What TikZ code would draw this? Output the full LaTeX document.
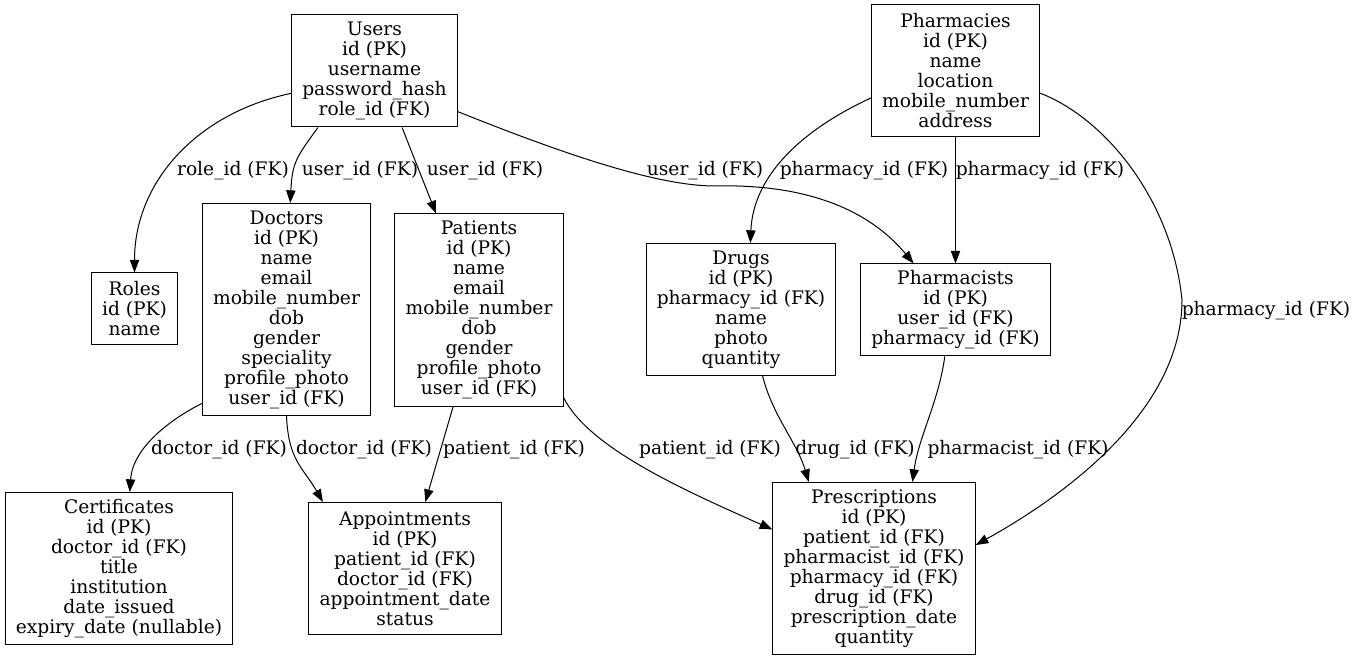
\documentclass[tikz,border=0pt]{standalone}
\usepackage{fontspec}
\setmainfont{DejaVu Serif}
\usetikzlibrary{arrows.meta}

\begin{document}
\begin{tikzpicture}[
    x=0.75pt, y=-0.75pt,
    font=\fontsize{14}{15}\selectfont,
    tbl/.style={draw=black, line width=0.75pt, align=center, inner xsep=8pt, inner ysep=1pt},
    rows/.style={minimum height=#1*15pt+9pt},
    fk/.style={draw=black, line width=0.75pt, -{Triangle[length=9.5pt,width=7pt]}},
    lbl/.style={inner sep=0pt}
]
\useasboundingbox (0,0) rectangle (1357,659);
% top row
\node[tbl, rows=5] (users) at (374.5,71) {Users\\id (PK)\\username\\password\_hash\\role\_id (FK)};
\node[tbl, rows=6] (pharmacies) at (955.5,70.5) {Pharmacies\\id (PK)\\name\\location\\mobile\_number\\address};
% middle row
\node[tbl, rows=3] (roles) at (134.5,309) {Roles\\id (PK)\\name};
\node[tbl, rows=10] (doctors) at (286.5,309.5) {Doctors\\id (PK)\\name\\email\\mobile\_number\\dob\\gender\\speciality\\profile\_photo\\user\_id (FK)};
\node[tbl, rows=9] (patients) at (479,310) {Patients\\id (PK)\\name\\email\\mobile\_number\\dob\\gender\\profile\_photo\\user\_id (FK)};
\node[tbl, rows=6] (drugs) at (741,309.5) {Drugs\\id (PK)\\pharmacy\_id (FK)\\name\\photo\\quantity};
\node[tbl, rows=4] (pharmacists) at (955.5,310) {Pharmacists\\id (PK)\\user\_id (FK)\\pharmacy\_id (FK)};
% bottom row
\node[tbl, rows=7] (certificates) at (119,568.5) {Certificates\\id (PK)\\doctor\_id (FK)\\title\\institution\\date\_issued\\expiry\_date (nullable)};
\node[tbl, rows=6] (appointments) at (405,568.5) {Appointments\\id (PK)\\patient\_id (FK)\\doctor\_id (FK)\\appointment\_date\\status};
\node[tbl, rows=8] (prescriptions) at (874,568.5) {Prescriptions\\id (PK)\\patient\_id (FK)\\pharmacist\_id (FK)\\pharmacy\_id (FK)\\drug\_id (FK)\\prescription\_date\\quantity};
% bends
\coordinate (uphbend) at (715,186);
\coordinate (prxbend) at (1182,300);
% connections
\draw[fk] (users.195) .. controls +(-95,20) and +(0,-90) .. (roles.north);
\draw[fk] (users.225) .. controls +(-22,30) and +(2,-40) .. (doctors.88);
\draw[fk] (users.296) -- (patients.114);
\draw[fk] (users.334) .. controls +(100,40) and +(-60,0) .. (uphbend) .. controls +(80,-2) and +(-50,-60) .. (pharmacists.132);
\draw[fk] (pharmacies.198) .. controls +(-65,30) and +(3,-70) .. (drugs.82);
\draw[fk] (pharmacies.south) -- (pharmacists.north);
\draw[fk] (pharmacies.345) .. controls +(65,25) and +(-10,-100) .. (prxbend) .. controls +(0,110) and +(90,-50) .. (prescriptions.13);
\draw[fk] (doctors.228) .. controls +(-30,15) and +(3,-45) .. (certificates.82);
\draw[fk] (doctors.south) .. controls +(2,45) and +(-20,-35) .. (appointments.141);
\draw[fk] (patients.255) -- (appointments.73);
\draw[fk] (patients.314) .. controls +(25,50) and +(-90,-40) .. (prescriptions.159);
\draw[fk] (drugs.288) .. controls +(10,40) and +(-12,-40) .. (prescriptions.127);
\draw[fk] (pharmacists.257) .. controls +(-6,45) and +(6,-45) .. (prescriptions.66);
% edge labels
\node[lbl] (lrole) at (233,170.5) {role\_id (FK)};
\node[lbl] (ldoc) at (360,170.5) {user\_id (FK)};
\node[lbl] (lpat) at (485,170.5) {user\_id (FK)};
\node[lbl] (lphm) at (705,170.5) {user\_id (FK)};
\node[lbl] (ldrug) at (864,170.5) {pharmacy\_id (FK)};
\node[lbl] (lphs) at (1040,170.5) {pharmacy\_id (FK)};
\node[lbl] (lprx) at (1266,310.5) {pharmacy\_id (FK)};
\node[lbl] (lcert) at (219,449.5) {doctor\_id (FK)};
\node[lbl] (lappd) at (364,449.5) {doctor\_id (FK)};
\node[lbl] (lappp) at (514,449.5) {patient\_id (FK)};
\node[lbl] (lprxp) at (710,449.5) {patient\_id (FK)};
\node[lbl] (lprxd) at (855,449.5) {drug\_id (FK)};
\node[lbl] (lprxs) at (1018,449.5) {pharmacist\_id (FK)};
\end{tikzpicture}
\end{document}
